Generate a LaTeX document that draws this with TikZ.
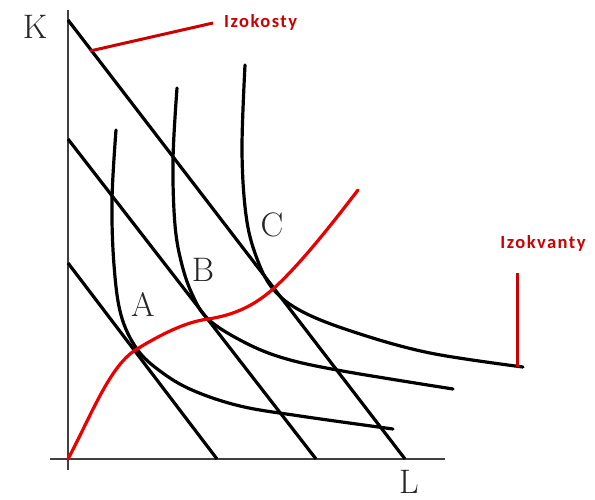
\documentclass[tikz,border=0pt]{standalone}
\usepackage{fontspec}
\newfontfamily\labfont[LetterSpace=8]{Carlito}
\begin{document}
\begin{tikzpicture}[x=1pt,y=-1pt,
  axis/.style={draw=black!75,line width=2pt},
  isocost/.style={draw=black,line width=3.2pt},
  isoquant/.style={draw=black,line width=3.2pt,line cap=round},
  path/.style={draw=red!92!black,line width=3.2pt,line cap=round},
  pointer/.style={draw=red!80!black,line width=3pt},
  letter/.style={font=\fontsize{34}{34}\selectfont,inner sep=0pt,text=black!85},
  redlab/.style={font=\labfont\bfseries\fontsize{18.5}{18.5}\selectfont,text=red!80!black,inner sep=0pt}]
\useasboundingbox (0,0) rectangle (595,499);
\fill[white] (0,0) rectangle (595,499);
% axes
\draw[axis] (68,10) -- (68,470);
\draw[axis] (50,459) -- (445,459);
% isocost lines
\draw[isocost] (68,20) -- (405,459);
\draw[isocost] (68,139) -- (316,459);
\draw[isocost] (68,263) -- (217,459);
% isoquants
\draw[isoquant] plot[smooth,tension=0.6] coordinates {(116,130) (112,200) (114,265) (121,315) (137,349) (160,371) (192,390) (240,406) (300,416) (393,429)};
\draw[isoquant] plot[smooth,tension=0.6] coordinates {(177,88) (173,160) (175,225) (182,265) (193,296) (208,319) (240,340) (280,357) (337,370) (453,389)};
\draw[isoquant] plot[smooth,tension=0.6] coordinates {(245,65) (242,150) (246,215) (256,256) (273,289) (303,312) (357,333) (430,353) (523,367)};
% expansion path
\draw[path] (68,459) .. controls (92,414) and (110,365) .. (137,349)
  .. controls (160,335) and (185,322) .. (208,319)
  .. controls (235,315) and (255,305) .. (273,289)
  .. controls (300,265) and (335,220) .. (358,190);
% labels
\node[letter] (K) at (35,27) {K};
\node[letter] (L) at (409,482) {L};
\node[letter] (A) at (143,304) {A};
\node[letter] (B) at (203,270) {B};
\node[letter] (C) at (272,225) {C};
\node[redlab,anchor=west] (izokosty) at (224,22) {Izokosty};
\node[redlab] (izokvanty) at (543,243) {Izokvanty};
% pointers
\coordinate (p1) at (90,51);
\coordinate (p2) at (213,23);
\draw[pointer] (p1) -- (p2);
\coordinate (q1) at (517,273);
\coordinate (q2) at (517,367);
\draw[pointer] (q1) -- (q2);
\end{tikzpicture}
\end{document}
